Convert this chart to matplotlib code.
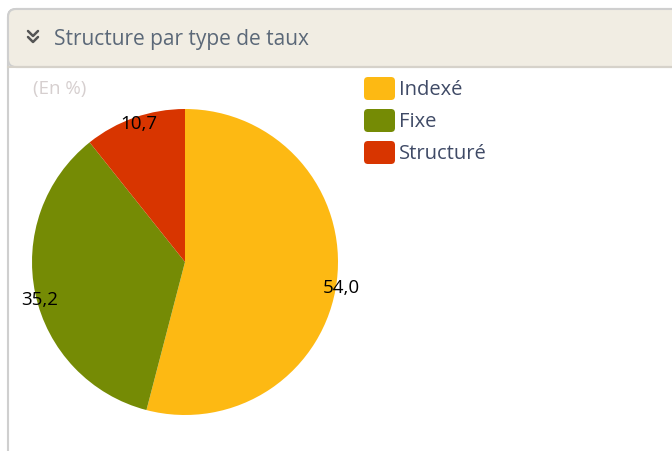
import numpy as np
import matplotlib.pyplot as plt
from matplotlib.patches import FancyBboxPatch

# Données
categories = ['Indexé', 'Fixe', 'Structuré']
valeurs = [54.0, 35.2, 10.7]
couleurs = ['#fdb913', '#758b05', '#d83500']
titre = 'Structure par type de taux'
unite = '(En %)'

plt.rcParams['font.family'] = ['Open Sans', 'DejaVu Sans']

fig = plt.figure(figsize=(6.72, 4.52), dpi=100)

# Fond du panneau (coordonnées en pixels)
bg = fig.add_axes([0, 0, 1, 1])
bg.set_xlim(0, 672)
bg.set_ylim(452, 0)
bg.axis('off')

panneau = FancyBboxPatch((8, 10), 700, 500, boxstyle='round,pad=0,rounding_size=8',
                         facecolor='white', edgecolor='#cfcfcf', linewidth=1.5)
bg.add_patch(panneau)
entete = FancyBboxPatch((8, 10), 700, 58, boxstyle='round,pad=0,rounding_size=8',
                        facecolor='#f1ede3', edgecolor='#cfcfcf', linewidth=1.5)
bg.add_patch(entete)
bg.plot([8, 672], [68, 68], color='#d6d2ca', linewidth=1.5)

# Icône double chevron
for dy in (0, 6):
    bg.plot([28, 33, 38], [32 + dy, 37 + dy, 32 + dy], color='#555555',
            linewidth=1.8, solid_capstyle='round')

bg.text(54, 39, titre, fontsize=15, color='#5b6878', va='center', ha='left')
bg.text(33, 89, unite, fontsize=13.5, color='#d6cfcf', va='center', ha='left')

# Légende
for i, (cat, c) in enumerate(zip(categories, couleurs)):
    y = 89 + i * 32
    bg.add_patch(FancyBboxPatch((364, y - 11), 31, 23,
                                boxstyle='round,pad=0,rounding_size=4',
                                facecolor=c, edgecolor='none'))
    bg.text(399, y + 1, cat, fontsize=14.5, color='#3f4a66', va='center', ha='left')

# Camembert
ax = fig.add_axes([32 / 672, 36 / 452, 306 / 672, 306 / 452])
wedges, _ = ax.pie(valeurs, colors=couleurs, startangle=90, counterclock=False,
                   radius=1, wedgeprops=dict(linewidth=0))
ax.set_xlim(-1, 1)
ax.set_ylim(-1, 1)
ax.axis('off')

for w, v in zip(wedges, valeurs):
    ang = np.deg2rad((w.theta1 + w.theta2) / 2)
    x, y = np.cos(ang), np.sin(ang)
    ax.annotate(f'{v:.1f}'.replace('.', ','), (x, y), xytext=(3, -4),
                textcoords='offset points', fontsize=13.5, color='black',
                ha='center', va='center')

fig.savefig('out.png', dpi=100)
